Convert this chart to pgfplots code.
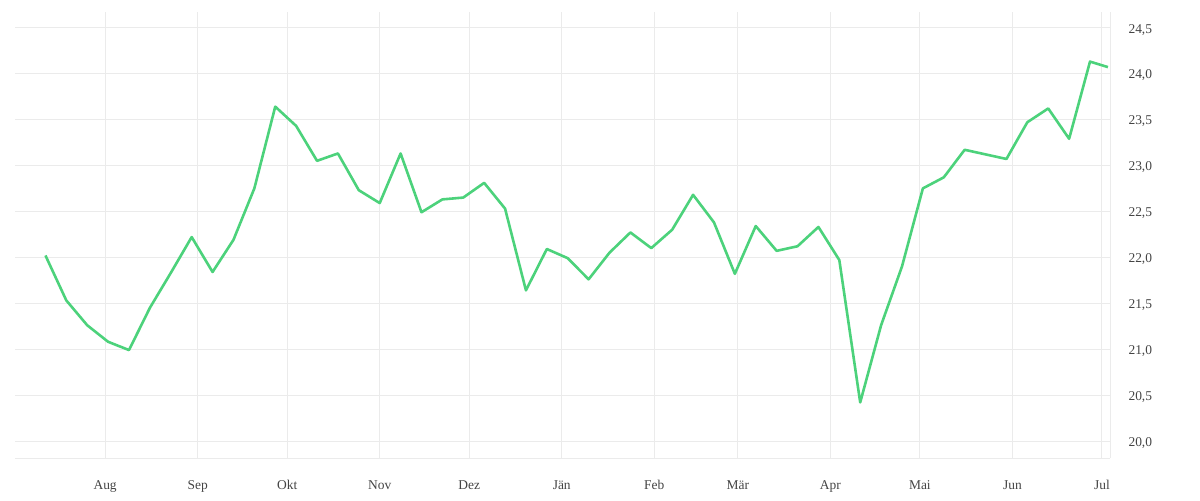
\documentclass[border=0pt]{standalone}
\usepackage{pgfplots}
\pgfplotsset{compat=1.18}
\usepackage{fontspec}
\setmainfont{Liberation Serif}
\definecolor{linegreen}{HTML}{4CD27B}
\definecolor{gridgray}{HTML}{EBEBEB}
\definecolor{labelgray}{HTML}{444444}

\begin{document}
\begin{tikzpicture}
	\begin{axis}[
			name=ax,
			scale only axis,
			width=1095bp, height=446bp,
			xmin=-30.2, xmax=336.7,
			ymin=19.815, ymax=24.67,
			axis x line=bottom, axis y line=right,
			axis line style={-, draw=gridgray, line width=1bp},
			grid=major,
			grid style={draw=gridgray, line width=1bp},
			major tick length=0pt,
			xtick={0,31,61,92,122,153,184,212,243,273,304,334},
			xticklabels={Aug,Sep,Okt,Nov,Dez,Jän,Feb,Mär,Apr,Mai,Jun,Jul},
			ytick={20,20.5,...,24.5},
			/pgf/number format/fixed,
			/pgf/number format/fixed zerofill,
			/pgf/number format/precision=1,
			/pgf/number format/use comma,
			/pgf/number format/assume math mode=true,
			ticklabel style={font=\fontsize{13.5}{15}\selectfont, text=labelgray},
			yticklabel style={anchor=west, xshift=15bp, yshift=-2bp},
			xticklabel style={anchor=north, yshift=-19bp},
		]
		\addplot[linegreen, line width=2.6bp, line join=round] coordinates {
				(-20, 22.02) (-13, 21.53) (-6, 21.26) (1, 21.08) (8, 20.99)
				(15, 21.45) (22, 21.83) (29, 22.22) (36, 21.84) (43, 22.19)
				(50, 22.75) (57, 23.64) (64, 23.43) (71, 23.05) (78, 23.13)
				(85, 22.73) (92, 22.59) (99, 23.13) (106, 22.49) (113, 22.63)
				(120, 22.65) (127, 22.81) (134, 22.53) (141, 21.64) (148, 22.09)
				(155, 21.99) (162, 21.76) (169, 22.05) (176, 22.27) (183, 22.10)
				(190, 22.30) (197, 22.68) (204, 22.38) (211, 21.82) (218, 22.34)
				(225, 22.07) (232, 22.12) (239, 22.33) (246, 21.97) (253, 20.42)
				(260, 21.26) (267, 21.90) (274, 22.75) (281, 22.87) (288, 23.17)
				(295, 23.12) (302, 23.07) (309, 23.47) (316, 23.62) (323, 23.29)
				(330, 24.13) (336, 24.07)
			};
	\end{axis}
	\path ([xshift=-15bp,yshift=-42bp]ax.south west) rectangle ([xshift=90bp,yshift=12bp]ax.north east);
\end{tikzpicture}
\end{document}
